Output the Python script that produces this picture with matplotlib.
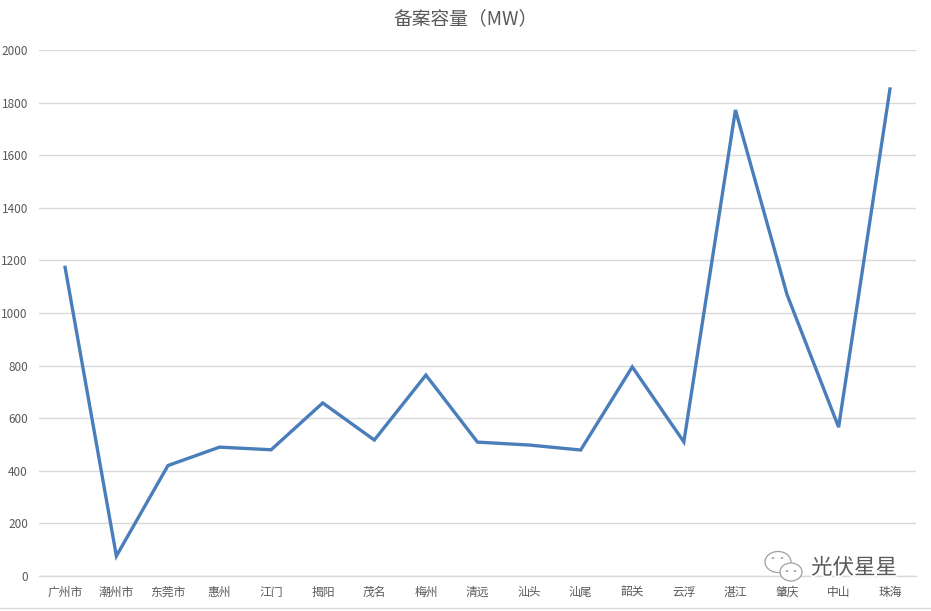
import matplotlib
matplotlib.use("Agg")
import matplotlib.pyplot as plt
from matplotlib.patches import Ellipse, Circle
from matplotlib.lines import Line2D
import matplotlib.patheffects as pe

plt.rcParams['font.family'] = ['Noto Sans CJK SC', 'DejaVu Sans']

cities = ["广州市", "潮州市", "东莞市", "惠州", "江门", "揭阳", "茂名", "梅州", "清远",
          "汕头", "汕尾", "韶关", "云浮", "湛江", "肇庆", "中山", "珠海"]
capacity = [1180, 76, 420, 490, 480, 658, 517, 764, 509,
            498, 479, 795, 510, 1772, 1070, 566, 1858]
yticks = [0, 200, 400, 600, 800, 1000, 1200, 1400, 1600, 1800, 2000]
title = "备案容量（MW）"
watermark = "光伏星星"

W, H = 931, 611
fig = plt.figure(figsize=(W / 100, H / 100), dpi=100)
fig.patch.set_facecolor("white")
ax = fig.add_axes([39 / W, 1 - 576 / H, (916 - 39) / W, (576 - 50) / H])

x = list(range(len(cities)))
ax.plot(x, capacity, color="#4A7EBB", linewidth=2.4, solid_joinstyle="miter",
        solid_capstyle="butt", zorder=3)

ax.set_xlim(-0.5, len(cities) - 0.5)
ax.set_ylim(0, 2000)
ax.set_yticks(yticks)
ax.set_yticklabels([str(v) for v in yticks])
ax.set_xticks(x)
ax.set_xticklabels(cities)
ax.grid(axis="y", color="#D9D9D9", linewidth=1.0, zorder=0)
ax.set_axisbelow(True)
for s in ["top", "right", "left"]:
    ax.spines[s].set_visible(False)
ax.spines["bottom"].set_color("#D9D9D9")
ax.spines["bottom"].set_linewidth(1.0)
ax.tick_params(axis="both", length=0, colors="#595959", labelsize=8.5)
ax.tick_params(axis="y", pad=8)
ax.tick_params(axis="x", pad=7)

fig.text(0.5, 1 - 19 / H, title, ha="center", va="center", fontsize=13.5, color="#595959",
         fontweight="light")

# bottom page line
fig.add_artist(Line2D([0, 1], [1 - 608 / H, 1 - 608 / H], color="#D9D9D9", linewidth=1.0,
                      transform=fig.transFigure))

# watermark
fig.text(854 / W, 1 - 568 / H, watermark, ha="center", va="center", fontsize=15.5,
         color="#5a5a5a",
         path_effects=[pe.withStroke(linewidth=2.5, foreground="white")], zorder=10)
# wechat-like icon
b1 = Ellipse((778 / W, 1 - 562 / H), 26 / W, 21 / H, transform=fig.transFigure,
             facecolor="white", edgecolor="#a0a0a0", linewidth=0.9, zorder=9)
b2 = Ellipse((791 / W, 1 - 572 / H), 22 / W, 18 / H, transform=fig.transFigure,
             facecolor="white", edgecolor="#a0a0a0", linewidth=0.9, zorder=9)
fig.add_artist(b1)
fig.add_artist(b2)
for (px, py) in [(773, 558), (782, 558), (787, 571), (795, 571)]:
    fig.add_artist(Circle((px / W, 1 - py / H), 1.4 / W, transform=fig.transFigure,
                          facecolor="#a0a0a0", edgecolor="none", zorder=10))

fig.savefig("out.png", dpi=100, facecolor="white")
